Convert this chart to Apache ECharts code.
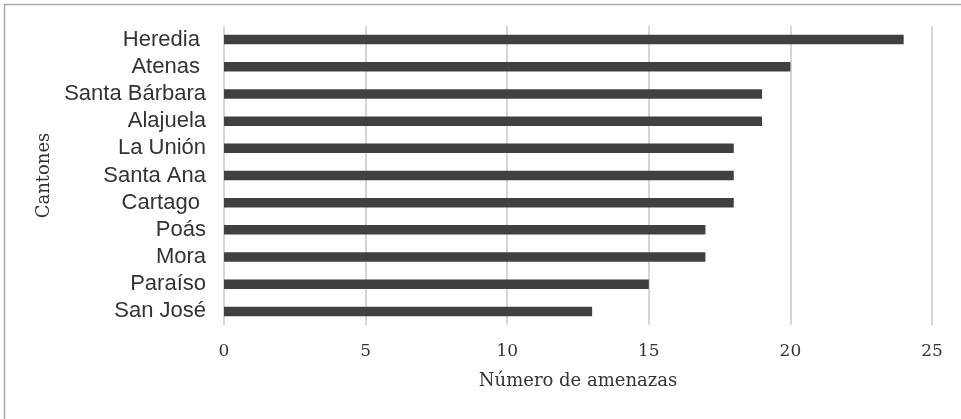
<!DOCTYPE html>
<html>
<head>
<meta charset="utf-8">
<script src="https://cdn.jsdelivr.net/npm/echarts@6/dist/echarts.min.js"></script>
<style>
html,body{margin:0;padding:0;background:#fff;}
#chart{width:961px;height:419px;}
</style>
</head>
<body>
<div id="chart"></div>
<script>
const categories = ["Heredia ", "Atenas ", "Santa Bárbara", "Alajuela", "La Unión", "Santa Ana", "Cartago ", "Poás", "Mora", "Paraíso", "San José"];
const values = [24, 20, 19, 19, 18, 18, 18, 17, 17, 15, 13];
const xTicks = [0, 5, 10, 15, 20, 25];
const xAxisName = "Número de amenazas";
const yAxisName = "Cantones";

const chart = echarts.init(document.getElementById('chart'), null, {renderer: 'canvas'});
const serif = '"DejaVu Serif", serif';
chart.setOption({
  animation: false,
  backgroundColor: '#ffffff',
  graphic: [{
    type: 'rect',
    shape: {x: 4.5, y: 4.5, width: 1200, height: 1200},
    style: {fill: 'none', stroke: '#a6a6a6', lineWidth: 1.5},
    silent: true
  }],
  grid: {left: 224, right: 29, top: 26, bottom: 94, containLabel: false},
  xAxis: {
    type: 'value',
    min: xTicks[0],
    max: xTicks[xTicks.length - 1],
    interval: xTicks[1] - xTicks[0],
    name: xAxisName,
    nameLocation: 'middle',
    nameGap: 47,
    nameTextStyle: {fontFamily: serif, fontSize: 18, color: '#333333'},
    axisLine: {show: false},
    axisTick: {show: false},
    axisLabel: {fontFamily: serif, fontSize: 17, color: '#333333', margin: 18},
    splitLine: {show: true, showMinLine: true, showMaxLine: true, lineStyle: {color: '#c8c8c8', width: 1.5}}
  },
  yAxis: {
    type: 'category',
    data: categories,
    inverse: true,
    name: yAxisName,
    nameLocation: 'middle',
    nameRotate: 90,
    nameGap: 171,
    nameTextStyle: {fontFamily: serif, fontSize: 18, color: '#333333'},
    axisLine: {show: false},
    axisTick: {show: false},
    axisLabel: {interval: 0, hideOverlap: false, fontFamily: '"Liberation Sans", Arial, sans-serif', fontSize: 22, lineHeight: 22, color: '#333333', margin: 18},
    splitLine: {show: false}
  },
  series: [{
    type: 'bar',
    data: values,
    barWidth: 9.5,
    itemStyle: {color: '#404040'}
  }]
});
</script>
</body>
</html>
